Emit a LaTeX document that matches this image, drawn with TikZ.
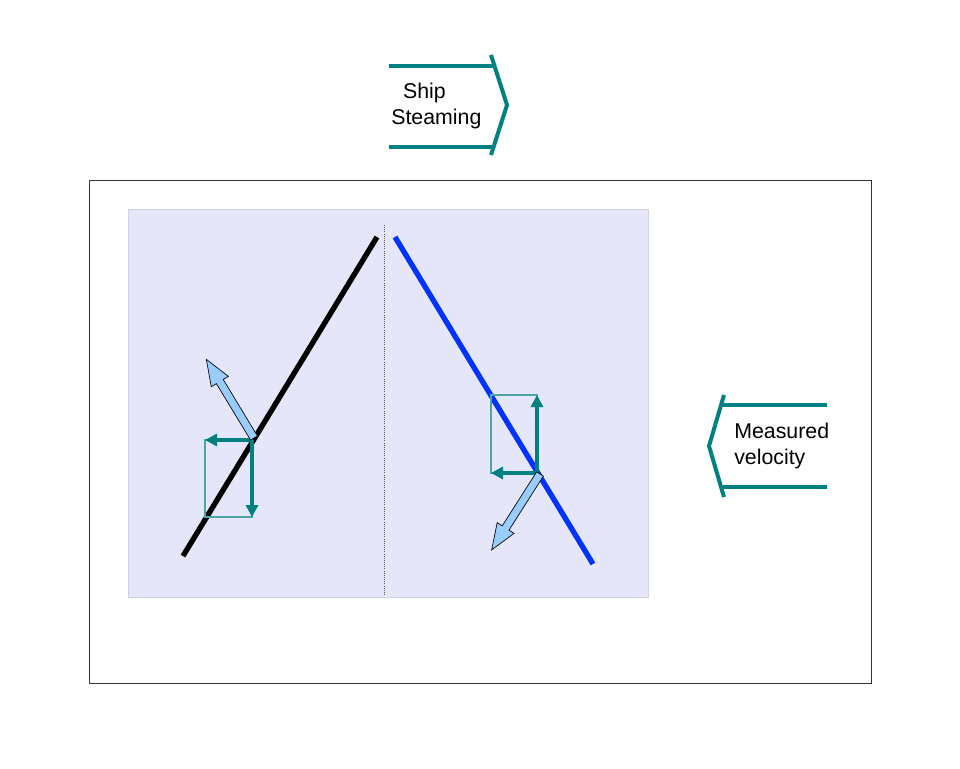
\documentclass[tikz,border=0pt]{standalone}
\usepackage{fontspec}
\setmainfont{Liberation Sans}
\usetikzlibrary{arrows.meta}
\definecolor{tealc}{RGB}{0,128,128}
\definecolor{lavbg}{RGB}{230,230,250}
\definecolor{lightbl}{RGB}{153,204,255}
\definecolor{bluel}{RGB}{0,51,255}
\tikzset{
	comp/.style={tealc, line width=2.5pt, -{Triangle[length=9pt,width=9pt]}},
	fat/.style={draw=black, fill=lightbl, line width=0.5pt},
	chev/.style={tealc, line width=3pt},
	lbl/.style={font=\fontsize{16}{19}\selectfont, align=left, inner sep=0pt}
}
% fat hollow arrow from #1 to #2
\newcommand{\fatarrow}[2]{%
	\path let \p1=(#1), \p2=(#2), \n1={atan2(\y2-\y1,\x2-\x1)} in
	[shift={(#1)}, rotate=\n1]
	coordinate (fa) at (0,0);
}
\begin{document}
\begin{tikzpicture}[x=0.75pt, y=-0.75pt]
	\useasboundingbox (0,0) rectangle (960,768);
	\draw[line width=0.6pt, black!80] (89,180) rectangle (871,683);
	\fill[lavbg] (128,209) rectangle (648,597);
	\draw[lavbg!80!gray, line width=0.4pt] (128,209) rectangle (648,597);
	\draw[densely dotted, gray!70!black, line width=0.6pt] (384,225) -- (384,595);

	% ship steaming chevron
	\draw[chev] (389,66) -- (493,66);
	\draw[chev] (389,147) -- (493,147);
	\draw[chev] (491,55) -- (507,105) -- (491,155);
	\node[lbl, anchor=west] (ship) at (391,106) {\ \ Ship\\Steaming};

	% measured velocity chevron
	\draw[chev] (827,405) -- (722,405);
	\draw[chev] (827,487) -- (722,487);
	\draw[chev] (724,395) -- (709,446) -- (724,497);
	\node[lbl, anchor=west] (meas) at (734,446) {Measured\\velocity};

	% left beam
	\draw[line width=4pt] (183,556) -- (377,237);
	\draw[tealc!70, line width=1pt] (205,440) rectangle (252,517);
	\coordinate (l0) at (252,440);
	\coordinate (lh) at (205,440);
	\coordinate (lv) at (252,517);
	\draw[comp] (l0) -- (lh);
	\draw[comp] (l0) -- (lv);
	\begin{scope}[shift={(254,438)}, rotate=121.2]
		\draw[fat] (0,-4) -- (66,-4) -- (66,-10) -- (92,0) -- (66,10) -- (66,4) -- (0,4) -- cycle;
	\end{scope}

	% right beam
	\draw[bluel, line width=4pt] (395,237) -- (593,564);
	\draw[tealc!70, line width=1pt] (491,395) rectangle (537,473);
	\coordinate (r0) at (537,473);
	\coordinate (rh) at (491,473);
	\coordinate (rv) at (537,395);
	\draw[comp] (r0) -- (rh);
	\draw[comp] (r0) -- (rv);
	\begin{scope}[shift={(540,474)}, rotate=237.5]
		\draw[fat] (0,-4) -- (64,-4) -- (64,-10) -- (90,0) -- (64,10) -- (64,4) -- (0,4) -- cycle;
	\end{scope}
\end{tikzpicture}
\end{document}
